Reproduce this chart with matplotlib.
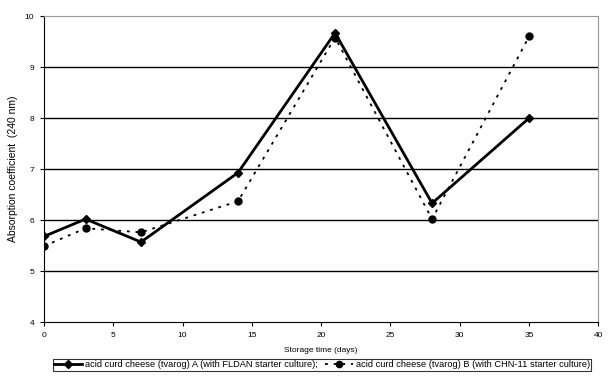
import matplotlib
matplotlib.use("Agg")
import matplotlib.pyplot as plt

days = [0, 3, 7, 14, 21, 28, 35]
series_a = [5.68, 6.02, 5.57, 6.93, 9.67, 6.33, 8.0]
series_b = [5.49, 5.84, 5.76, 6.37, 9.58, 6.02, 9.6]
label_a = "acid curd cheese (tvarog) A (with FLDAN starter culture);"
label_b = "acid curd cheese (tvarog) B (with CHN-11 starter culture)"

plt.rcParams['font.family'] = ['Liberation Sans', 'DejaVu Sans']

fig = plt.figure(figsize=(6.16, 3.83), dpi=100)
ax = fig.add_axes([0.0714, 0.159, 0.9, 0.799])

for y in [5, 6, 7, 8, 9]:
    ax.axhline(y, color='black', lw=1.0, zorder=1)

ax.plot(days, series_a, color='black', lw=2.0, marker='D', ms=4, label=label_a, zorder=3)
ax.plot(days, series_b, color='black', lw=1.3, ls=(0, (1.6, 3.2)), marker='o', ms=5, label=label_b, zorder=3)

ax.set_xlim(0, 40)
ax.set_ylim(4, 10)
ax.set_xticks(range(0, 41, 5))
ax.set_yticks(range(4, 11))
ax.tick_params(labelsize=6, length=3, width=0.8, pad=4)
ax.spines['top'].set_color('#999999')
ax.spines['right'].set_color('#999999')
ax.spines['left'].set_color('black')
ax.spines['bottom'].set_color('black')
ax.set_xlabel("Storage time (days)", fontsize=6, labelpad=6)
ax.set_ylabel("Absorption coefficient  (240 nm)", fontsize=7.5, labelpad=5)

handles, labels = ax.get_legend_handles_labels()
leg = fig.legend(handles, labels, loc='center', bbox_to_anchor=(0.523, 0.048), ncol=2, fontsize=6.7,
                 frameon=True, fancybox=False, edgecolor='black', handlelength=3.0,
                 columnspacing=0.8, borderpad=0.15, handletextpad=0.3, markerscale=0.9,
                 borderaxespad=0)
leg.get_frame().set_linewidth(0.8)

fig.savefig("out.png", dpi=100)
